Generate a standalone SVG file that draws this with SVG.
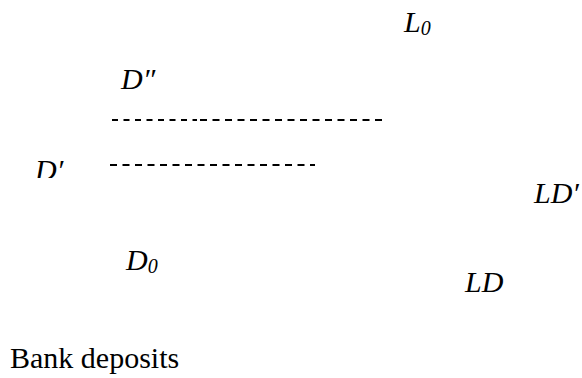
<svg xmlns="http://www.w3.org/2000/svg" width="582" height="378" viewBox="0 0 582 378">
  <style>
    text { font-family: 'Liberation Serif', 'Times New Roman', Times, 'DejaVu Serif', serif; fill: #000; }
    .lbl { font-style: italic; font-size: 30px; }
    .sub { font-size: 20px; }
    .plain { font-size: 30px; }
    .dash { stroke: #000; stroke-width: 1.8; fill: none; stroke-dasharray: 7 5.5; }
  </style>
  <defs>
    <clipPath id="clipDp">
      <rect x="0" y="140" width="100" height="38"/>
    </clipPath>
  </defs>
  <rect width="582" height="378" fill="#fff"/>
  <g id="connectors">
    <line class="dash" x1="112" y1="120" x2="197" y2="120" style="stroke-dasharray: 6 5.5"/>
    <line class="dash" x1="200" y1="120" x2="382" y2="120"/>
    <line class="dash" x1="110" y1="165" x2="315" y2="165"/>
  </g>
  <g id="L0"><text class="lbl" x="404" y="31.5">L<tspan class="sub" dy="3">0</tspan></text></g>
  <g id="D2"><text class="lbl" x="121" y="88.5">D″</text></g>
  <g id="D1" clip-path="url(#clipDp)"><text class="lbl" x="35" y="180">D′</text></g>
  <g id="LD1"><text class="lbl" x="534" y="203">LD′</text></g>
  <g id="D0"><text class="lbl" x="126" y="270">D<tspan class="sub" dy="3">0</tspan></text></g>
  <g id="LD"><text class="lbl" x="465" y="291.5">LD</text></g>
  <g id="axis-label"><text class="plain" x="10" y="368">Bank deposits</text></g>
</svg>
